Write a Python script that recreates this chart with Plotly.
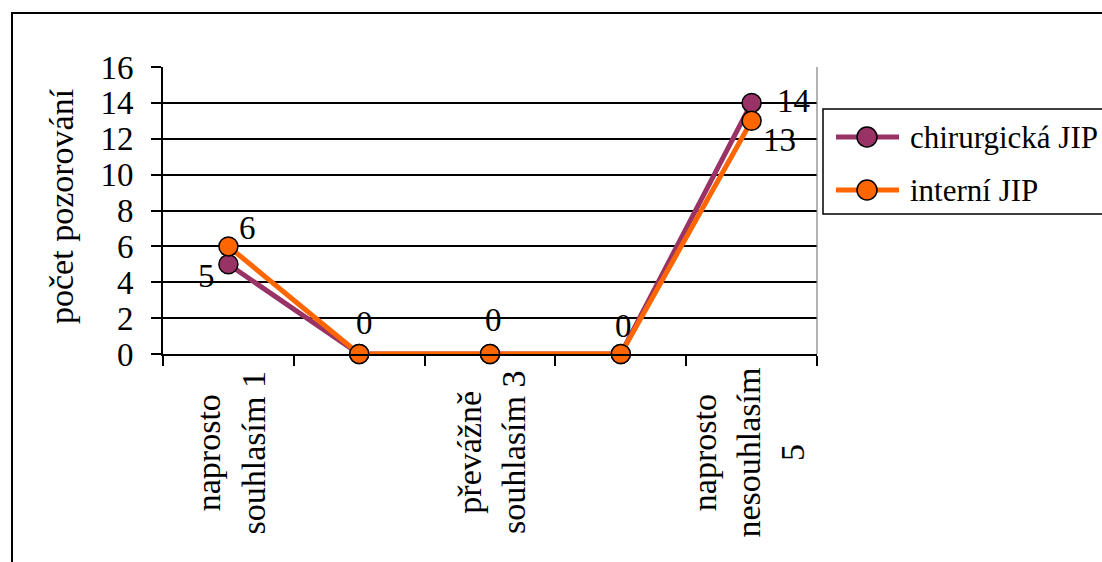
import plotly.graph_objects as go

# --- data ---------------------------------------------------------------
categories = [
    "naprosto<br>souhlasím 1",
    "",
    "převážně<br>souhlasím 3",
    "",
    "naprosto<br>nesouhlasím<br>5",
]
chirurgicka_jip = [5, 0, 0, 0, 14]
interni_jip = [6, 0, 0, 0, 13]
series_names = ["chirurgická JIP", "interní JIP"]
y_ticks = [0, 2, 4, 6, 8, 10, 12, 14, 16]
y_title = "počet pozorování"

# --- styling ------------------------------------------------------------
series_colors = ["#993366", "#FF6600"]
FONT = '"Times New Roman", "Liberation Serif", serif'
FS_TICK = 33
FS_CAT = 34
FS_TITLE = 34
FS_VALUE = 33
FS_LEGEND = 31

# pixel offsets (dx, dy-up) of the value labels around each marker
chir_label_shift = [(-22, -12), (5, 31), (3, 34), (3, 28), (42, 2)]
int_label_shift = [(19, 18), (5, 31), (3, 34), (3, 28), (28, -19)]
# small horizontal nudges of the rotated category labels
cat_label_dx = [2, 0, 1, 0, -4]

W, H = 1102, 562
L, R, T, B = 163, 817, 67, 354  # plot area in pixels


def px(x):
    return (x - L) / (R - L)


def py(y):
    return (B - y) / (B - T)


fig = go.Figure()
for vals, name, color in zip([chirurgicka_jip, interni_jip], series_names, series_colors):
    fig.add_trace(go.Scatter(
        x=list(range(len(categories))), y=vals, name=name,
        mode="lines+markers",
        line=dict(color=color, width=5),
        marker=dict(size=19, color=color, line=dict(color="black", width=1.5)),
        showlegend=False, cliponaxis=False,
    ))

annotations = []
# value labels (a label identical to one already placed is drawn once)
placed = set()
for vals, shifts in [(chirurgicka_jip, chir_label_shift), (interni_jip, int_label_shift)]:
    for i, (v, (dx, dy)) in enumerate(zip(vals, shifts)):
        key = (i, v, dx, dy)
        if key in placed:
            continue
        placed.add(key)
        annotations.append(dict(
            x=i, y=v, xref="x", yref="y", text=str(v), showarrow=False,
            xshift=dx, yshift=dy, xanchor="center", yanchor="middle",
            font=dict(family=FONT, size=FS_VALUE, color="black"),
        ))

# rotated category labels
for i, lab in enumerate(categories):
    if not lab:
        continue
    annotations.append(dict(
        x=i, y=py(453), xref="x", yref="paper", text=lab, showarrow=False,
        textangle=-90, align="center", xanchor="center", yanchor="middle",
        xshift=cat_label_dx[i],
        font=dict(family=FONT, size=FS_CAT, color="black"),
    ))

# y axis title
annotations.append(dict(
    x=px(61), y=py(206), xref="paper", yref="paper", text=y_title,
    showarrow=False, textangle=-90, xanchor="center", yanchor="middle",
    font=dict(family=FONT, size=FS_TITLE, color="black"),
))

shapes = [
    # outer chart frame
    dict(type="rect", xref="paper", yref="paper", x0=px(12), x1=px(1130),
         y0=py(13), y1=py(600), line=dict(color="black", width=2)),
    # right border of plot area
    dict(type="line", xref="paper", yref="paper", x0=1, x1=1, y0=0, y1=1,
         line=dict(color="#808080", width=1.2)),
    # legend box
    dict(type="rect", xref="paper", yref="paper", x0=px(823), x1=px(1130),
         y0=py(109), y1=py(214), line=dict(color="black", width=1.5),
         fillcolor="white"),
]

legend_rows = [137, 190]
for name, color, row in zip(series_names, series_colors, legend_rows):
    shapes.append(dict(type="line", xref="paper", yref="paper",
                       x0=px(836), x1=px(899), y0=py(row), y1=py(row),
                       line=dict(color=color, width=5)))
    shapes.append(dict(type="circle", xref="paper", yref="paper",
                       xsizemode="pixel", ysizemode="pixel",
                       xanchor=px(867), yanchor=py(row),
                       x0=-10, x1=10, y0=-10, y1=10,
                       fillcolor=color, line=dict(color="black", width=1.5)))
    annotations.append(dict(
        x=px(908), y=py(row), xref="paper", yref="paper", text=name,
        showarrow=False, xanchor="left", yanchor="middle",
        font=dict(family=FONT, size=FS_LEGEND, color="black"),
    ))

n = len(categories)
fig.update_layout(
    width=W, height=H,
    margin=dict(l=L, r=W - R, t=T, b=H - B, pad=0),
    paper_bgcolor="white", plot_bgcolor="white",
    font=dict(family=FONT, size=FS_TICK, color="black"),
    showlegend=False,
    xaxis=dict(
        range=[-0.5, n - 0.5], showgrid=False, zeroline=False,
        tickvals=[k - 0.5 for k in range(n + 1)], showticklabels=False,
        ticks="outside", ticklen=10, tickwidth=1.5, tickcolor="black",
        showline=True, linecolor="black", linewidth=1.5,
    ),
    yaxis=dict(
        range=[0, 16], tickvals=y_ticks, ticktext=[str(t) for t in y_ticks],
        showgrid=True, gridcolor="black", gridwidth=1.5, zeroline=False,
        ticks="outside", ticklen=10, tickwidth=1.5, tickcolor="black",
        ticklabelstandoff=11,
        showline=True, linecolor="black", linewidth=2,
        tickfont=dict(family=FONT, size=FS_TICK, color="black"),
    ),
    shapes=shapes,
    annotations=annotations,
)

fig.write_html("out.html")
